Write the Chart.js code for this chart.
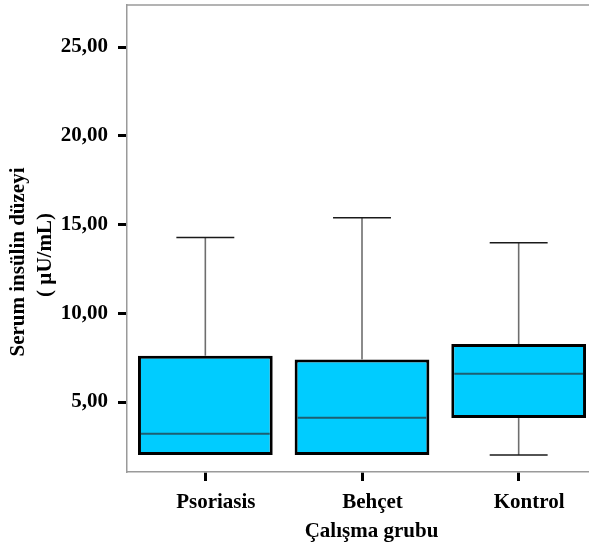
<!DOCTYPE html>
<html>
<head>
<meta charset="utf-8">
<script src="https://cdn.jsdelivr.net/npm/chart.js@4"></script>
<style>
  html, body { margin: 0; padding: 0; background: #ffffff; overflow: hidden; }
  #wrap { width: 600px; height: 550px; }
</style>
</head>
<body>
<div id="wrap"><canvas id="c" width="600" height="550"></canvas></div>
<script>
// Serum insulin by study group (box plot values, µU/mL)
const categories  = ['Psoriasis', 'Behçet', 'Kontrol'];
const whiskerLow  = [2.02, 2.02, 2.02];
const quartile1   = [2.02, 2.02, 4.10];
const medians     = [3.22, 4.12, 6.59];
const quartile3   = [7.61, 7.40, 8.27];
const whiskerHigh = [14.27, 15.38, 13.97];

const yTickValues = [5, 10, 15, 20, 25];
const yTickLabels = ['5,00', '10,00', '15,00', '20,00', '25,00'];
const yTitleLines = ['Serum insülin düzeyi', '( µU/mL)'];
const xTitle = 'Çalışma grubu';

const FONT_FAMILY = "'Liberation Serif', 'Times New Roman', serif";
const boldFont = { family: FONT_FAMILY, size: 21, weight: 'bold' };

// Whiskers, caps and median lines drawn on top of the floating bars
const boxExtras = {
  id: 'boxExtras',
  afterDatasetsDraw(chart) {
    const { ctx, scales: { x, y } } = chart;
    const meta = chart.getDatasetMeta(0);
    ctx.save();
    categories.forEach((c, i) => {
      const bar = meta.data[i];
      const cx = x.getPixelForValue(i);
      const half = bar.width / 2;
      const capHalf = bar.width * 0.215;

      // median
      const ym = y.getPixelForValue(medians[i]);
      ctx.strokeStyle = '#1d5f72';
      ctx.lineWidth = 2;
      ctx.beginPath();
      ctx.moveTo(cx - half + 3, ym);
      ctx.lineTo(cx + half - 3, ym);
      ctx.stroke();

      const drawWhisker = (from, to) => {
        const y0 = y.getPixelForValue(from);
        const y1 = y.getPixelForValue(to);
        ctx.strokeStyle = '#6e6e6e';
        ctx.lineWidth = 1.6;
        ctx.beginPath();
        ctx.moveTo(cx, y0);
        ctx.lineTo(cx, y1);
        ctx.stroke();
        ctx.strokeStyle = '#1a1a1a';
        ctx.lineWidth = 1.5;
        ctx.beginPath();
        ctx.moveTo(cx - capHalf, y1);
        ctx.lineTo(cx + capHalf, y1);
        ctx.stroke();
      };
      if (whiskerHigh[i] > quartile3[i]) drawWhisker(quartile3[i], whiskerHigh[i]);
      if (whiskerLow[i] < quartile1[i]) drawWhisker(quartile1[i], whiskerLow[i]);
    });
    ctx.restore();
  }
};

// Top frame line and axis titles
const frameAndTitles = {
  id: 'frameAndTitles',
  afterDraw(chart) {
    const { ctx, chartArea } = chart;
    ctx.save();
    ctx.strokeStyle = '#9a9a9a';
    ctx.lineWidth = 1.5;
    ctx.beginPath();
    ctx.moveTo(chartArea.left, chartArea.top);
    ctx.lineTo(chart.width, chartArea.top);
    ctx.stroke();

    ctx.fillStyle = '#000000';
    ctx.font = 'bold 21px ' + FONT_FAMILY;

    // x axis title
    ctx.textAlign = 'center';
    ctx.textBaseline = 'alphabetic';
    ctx.fillText(xTitle, 371.5, 537);

    // y axis title, two rotated lines
    const lineX = [19, 46];
    const lineY = [262, 255];
    yTitleLines.forEach((t, k) => {
      ctx.save();
      ctx.translate(lineX[k], lineY[k]);
      ctx.rotate(-Math.PI / 2);
      ctx.textAlign = 'center';
      ctx.textBaseline = 'middle';
      ctx.fillText(t, 0, 0);
      ctx.restore();
    });
    ctx.restore();
  }
};

new Chart(document.getElementById('c'), {
  type: 'bar',
  data: {
    labels: categories,
    datasets: [{
      data: categories.map((c, i) => [quartile1[i], quartile3[i]]),
      backgroundColor: '#00ccff',
      borderColor: '#000000',
      borderWidth: 3,
      borderSkipped: false,
      categoryPercentage: 1,
      barPercentage: 0.86
    }]
  },
  options: {
    responsive: false,
    animation: false,
    devicePixelRatio: 1,
    layout: { padding: { top: 5, right: 3, left: 0, bottom: 0 } },
    plugins: {
      legend: { display: false },
      tooltip: { enabled: false },
      title: { display: false }
    },
    scales: {
      x: {
        offset: true,
        grid: {
          offset: false,
          drawOnChartArea: false,
          drawTicks: true,
          tickLength: 9,
          tickWidth: 3,
          tickColor: '#000000'
        },
        border: { color: '#9a9a9a', width: 1.5 },
        ticks: { color: '#000000', font: boldFont, padding: 9, labelOffset: 10.5, maxRotation: 0 },
        afterFit(scale) {
          scale.height = 78;
          scale.paddingLeft = 0;
          scale.paddingRight = 0;
        }
      },
      y: {
        min: 1.06,
        max: 27.37,
        afterBuildTicks(scale) {
          scale.ticks = yTickValues.map(v => ({ value: v }));
        },
        grid: {
          drawOnChartArea: false,
          drawTicks: true,
          tickLength: 9,
          tickWidth: 3,
          tickColor: '#000000'
        },
        border: { color: '#9a9a9a', width: 1.5 },
        ticks: {
          color: '#000000',
          font: boldFont,
          padding: 10,
          callback(value) {
            const k = yTickValues.indexOf(value);
            return k >= 0 ? yTickLabels[k] : '';
          }
        },
        afterFit(scale) {
          scale.width = 127;
          scale.paddingTop = 0;
          scale.paddingBottom = 0;
        }
      }
    }
  },
  plugins: [boxExtras, frameAndTitles]
});
</script>
</body>
</html>
